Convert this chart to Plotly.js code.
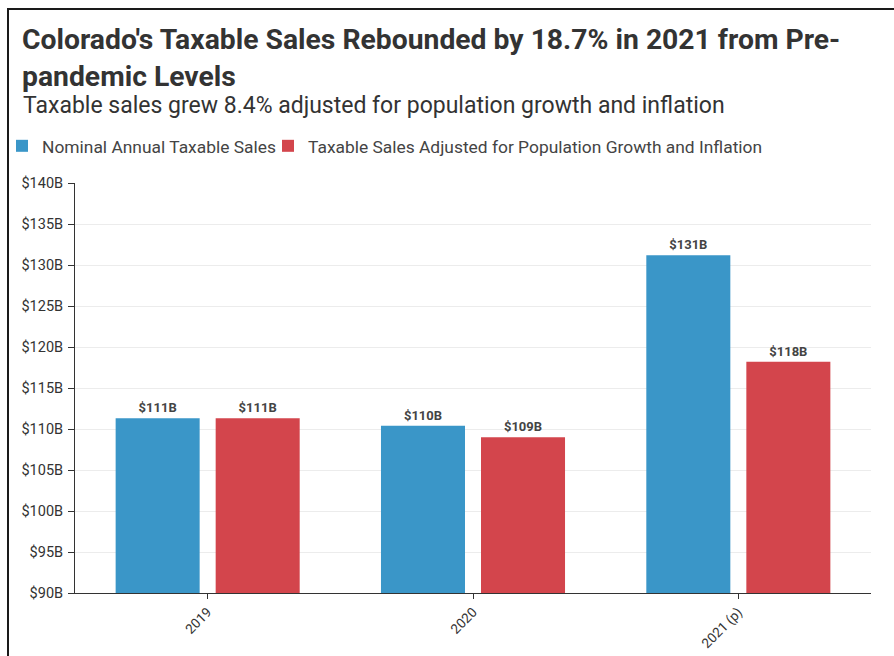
<!DOCTYPE html>
<html>
<head>
<meta charset="utf-8">
<script src="https://cdn.plot.ly/plotly-3.0.1.min.js"></script>
<style>
  html, body { margin: 0; padding: 0; background: #fff; }
  #chart { width: 894px; height: 656px; }
  #frame { position: absolute; left: 7px; top: 8px; width: 2000px; height: 2000px;
           border-left: 2px solid #1a1a1a; border-top: 2px solid #1a1a1a; pointer-events: none; }
</style>
</head>
<body>
<div id="chart"></div>
<div id="frame"></div>
<script>
const categories = ['2019', '2020', '2021 (p)'];
const nominalSales = [111.3, 110.4, 131.2];
const adjustedSales = [111.3, 109.0, 118.2];
const seriesNames = ['Nominal Annual Taxable Sales', 'Taxable Sales Adjusted for Population Growth and Inflation'];
const yTickValues = [90, 95, 100, 105, 110, 115, 120, 125, 130, 135, 140];
const yTickLabels = ['$90B', '$95B', '$100B', '$105B', '$110B', '$115B', '$120B', '$125B', '$130B', '$135B', '$140B'];

const FONT = 'Roboto, "Open Sans", sans-serif';
const labelFont = { family: FONT, size: 13, color: '#444', weight: 700 };
const legendFont = { family: FONT, size: 17.4, color: '#444' };

const traces = [
  {
    type: 'bar', name: seriesNames[0], x: categories, y: nominalSales,
    marker: { color: '#3a96c8' }, legend: 'legend',
    texttemplate: '$%{y:.0f}B', textposition: 'outside', cliponaxis: false,
    textfont: labelFont, hoverinfo: 'x+y'
  },
  {
    type: 'bar', name: seriesNames[1], x: categories, y: adjustedSales,
    marker: { color: '#d3454c' }, legend: 'legend2',
    texttemplate: '$%{y:.0f}B', textposition: 'outside', cliponaxis: false,
    textfont: labelFont, hoverinfo: 'x+y'
  }
];

const layout = {
  width: 894, height: 656,
  margin: { l: 75, r: 23, t: 183, b: 63 },
  paper_bgcolor: '#fff', plot_bgcolor: '#fff',
  font: { family: FONT, color: '#333' },
  barmode: 'group', bargap: 0.246, bargroupgap: 0.16,
  title: {
    text: "Colorado's Taxable Sales Rebounded by 18.7% in 2021 from Pre-<br>pandemic Levels",
    x: 22 / 894, xanchor: 'left', xref: 'container',
    y: 1 - 49 / 656, yanchor: 'top', yref: 'container',
    font: { family: FONT, size: 28.3, color: '#333', weight: 700 }
  },
  annotations: [
    {
      text: 'Taxable sales grew 8.4% adjusted for population growth and inflation',
      xref: 'paper', yref: 'paper', x: (21 - 75) / 796, y: (593 - 90) / 410,
      xanchor: 'left', yanchor: 'top', showarrow: false, align: 'left',
      font: { family: FONT, size: 23, color: '#333' }
    }
  ],
  showlegend: true,
  legend: {
    orientation: 'h', xref: 'container', yref: 'container',
    x: 2 / 894, xanchor: 'left', y: 1 - 128 / 656, yanchor: 'top',
    font: legendFont, itemwidth: 30, bgcolor: 'rgba(0,0,0,0)'
  },
  legend2: {
    orientation: 'h', xref: 'container', yref: 'container',
    x: 268 / 894, xanchor: 'left', y: 1 - 128 / 656, yanchor: 'top',
    font: legendFont, itemwidth: 30, bgcolor: 'rgba(0,0,0,0)'
  },
  xaxis: {
    type: 'category', range: [-0.5, 2.5],
    showline: true, linecolor: '#333', linewidth: 1,
    ticks: 'outside', ticklen: 5, tickcolor: '#333',
    tickangle: -45, tickfont: { family: FONT, size: 13.5, color: '#333' },
    showgrid: false, zeroline: false
  },
  yaxis: {
    range: [90, 140], tickmode: 'array', tickvals: yTickValues, ticktext: yTickLabels,
    showline: true, linecolor: '#333', linewidth: 1,
    ticks: 'outside', ticklen: 6, tickcolor: '#333', ticklabelstandoff: 2,
    tickfont: { family: FONT, size: 14.5, color: '#333' },
    gridcolor: '#ececec', zeroline: false
  }
};

Plotly.newPlot('chart', traces, layout, { displayModeBar: false, staticPlot: true });
</script>
</body>
</html>
